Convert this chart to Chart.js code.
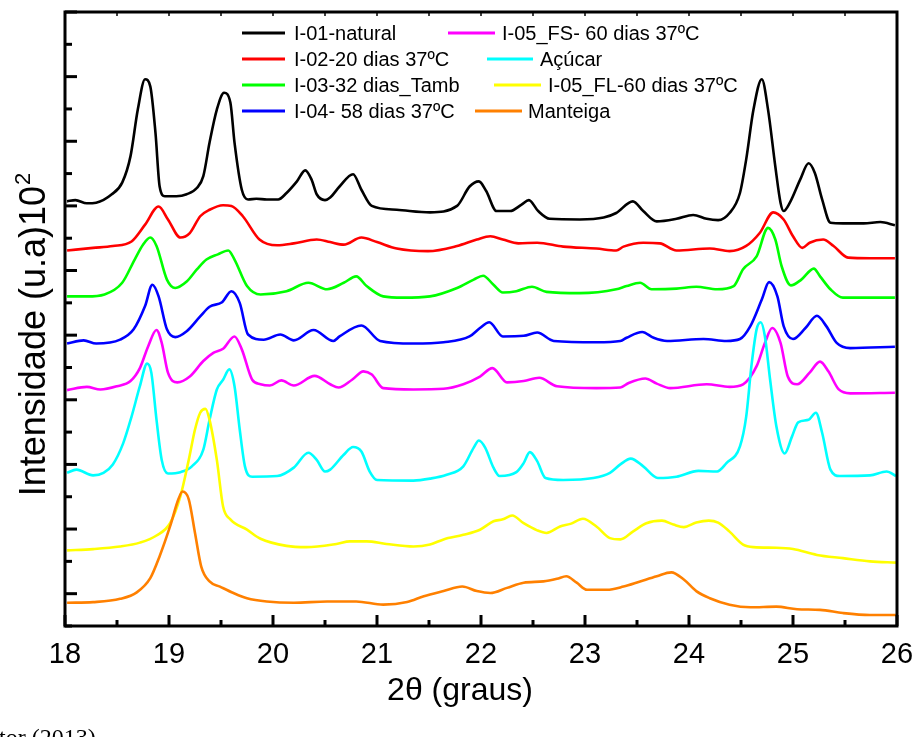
<!DOCTYPE html>
<html><head><meta charset="utf-8">
<script src="https://cdn.jsdelivr.net/npm/chart.js@4.4.1/dist/chart.umd.min.js"></script>
<style>html,body{margin:0;padding:0;background:#fff;}#wrap{width:917px;height:737px;position:relative;}</style>
</head><body><div id="wrap"><canvas id="c" width="917" height="737"></canvas></div>
<script>
// ---- data (2θ in degrees, intensity in arbitrary units, curves already offset) ----
const labels = ["I-01-natural","I-02-20 dias 37ºC","I-03-32 dias_Tamb","I-04- 58 dias 37ºC","I-05_FS- 60 dias 37ºC","Açúcar","I-05_FL-60 dias 37ºC","Manteiga"];
const colors = ["#000000","#ff0000","#00ff00","#0000ff","#ff00ff","#00ffff","#ffff00","#ff8000"];

const x01 = [18.02,18.10,18.21,18.30,18.45,18.55,18.63,18.70,18.77,18.82,18.87,18.91,18.96,19.07,19.17,19.27,19.33,19.39,19.46,19.53,19.59,19.63,19.70,19.76,19.84,19.94,20.05,20.13,20.23,20.31,20.37,20.42,20.50,20.55,20.64,20.77,20.85,20.95,21.19,21.51,21.77,21.89,21.98,22.05,22.15,22.28,22.39,22.46,22.55,22.66,22.95,23.18,23.30,23.46,23.56,23.69,23.88,24.04,24.17,24.28,24.39,24.49,24.55,24.62,24.70,24.76,24.83,24.88,24.91,24.97,25.07,25.15,25.21,25.28,25.36,25.48,25.68,25.84,25.98];
const y01 = [60.7,60.9,60.4,60.5,61.8,63.6,67.7,74.9,79.6,78.5,71.3,63.0,61.5,61.5,61.8,62.8,64.6,69.8,74.9,77.5,76.0,69.8,62.5,61.0,61.1,61.0,61.0,62.0,63.8,65.5,64.1,61.8,60.9,61.3,63.0,64.9,62.5,60.0,59.4,59.0,60.0,63.0,63.8,62.3,59.2,59.2,60.2,60.9,59.2,58.0,57.9,58.2,58.9,60.7,59.2,57.6,58.0,58.6,58.0,57.8,58.9,62.0,67.2,74.9,79.6,74.9,66.1,60.5,59.2,60.5,64.1,66.6,65.1,61.0,57.4,57.3,57.3,57.5,57.0];

const x02 = [18.02,18.27,18.46,18.64,18.77,18.90,18.99,19.11,19.20,19.30,19.39,19.52,19.60,19.71,19.87,20.04,20.20,20.42,20.55,20.68,20.85,21.00,21.19,21.49,21.77,21.96,22.09,22.21,22.36,22.54,22.79,23.11,23.30,23.37,23.56,23.72,23.88,24.20,24.39,24.55,24.68,24.81,24.91,25.00,25.09,25.16,25.29,25.39,25.53,25.74,25.98];
const y02 = [53.1,53.5,53.8,54.5,57.1,59.9,57.9,55.1,55.8,58.4,59.4,60.1,60.0,58.4,54.8,53.9,54.2,54.8,54.4,54.0,55.1,54.4,53.4,53.0,53.8,54.8,55.3,54.8,54.2,54.3,53.7,53.4,53.1,53.7,54.3,54.2,53.1,53.4,53.0,53.8,55.8,59.0,57.9,55.3,53.5,54.3,54.8,53.8,52.0,51.9,51.9];

const x03 = [18.02,18.21,18.38,18.55,18.67,18.75,18.82,18.88,18.98,19.06,19.17,19.27,19.36,19.47,19.57,19.63,19.75,19.88,20.13,20.34,20.52,20.68,20.80,20.90,21.06,21.25,21.51,21.77,21.93,22.02,22.12,22.21,22.34,22.49,22.63,22.95,23.30,23.40,23.53,23.64,23.88,24.07,24.27,24.43,24.52,24.65,24.76,24.83,24.89,24.98,25.08,25.20,25.26,25.36,25.48,25.98];
const y03 = [46.0,46.0,46.3,48.1,51.7,54.0,55.1,53.8,48.6,47.3,48.3,50.2,51.7,52.5,53.1,51.7,47.6,46.3,46.8,48.1,47.1,48.1,49.1,47.6,46.0,45.8,46.0,47.3,48.6,49.2,47.8,46.6,46.8,47.5,46.7,46.5,47.1,47.6,48.1,47.1,47.2,47.5,47.1,47.6,50.2,52.2,56.6,54.8,50.7,47.7,48.6,50.3,49.1,47.1,45.8,45.8];

const x04 = [18.02,18.18,18.30,18.53,18.66,18.77,18.84,18.90,18.98,19.06,19.17,19.30,19.39,19.51,19.60,19.68,19.76,19.91,20.07,20.20,20.39,20.58,20.64,20.85,21.03,21.35,21.64,21.89,21.99,22.08,22.21,22.41,22.54,22.70,23.11,23.34,23.40,23.55,23.66,23.79,24.14,24.36,24.49,24.59,24.70,24.77,24.85,24.91,25.00,25.12,25.23,25.32,25.42,25.55,25.98];
const y04 = [38.7,39.2,38.7,39.3,40.9,44.5,47.8,46.0,40.9,39.7,40.6,42.9,44.4,45.1,46.8,45.0,40.1,39.3,40.1,39.2,40.8,39.1,39.8,41.5,39.1,38.7,38.9,39.8,41.1,42.0,39.8,39.9,40.4,39.1,38.9,39.1,39.6,40.5,39.6,39.1,39.4,39.1,39.4,41.4,45.5,48.2,46.0,41.4,39.4,41.1,43.0,41.4,38.8,38.0,38.2];

const x05fs = [18.02,18.21,18.34,18.50,18.63,18.72,18.80,18.88,18.93,18.99,19.08,19.20,19.33,19.43,19.52,19.63,19.70,19.80,19.88,19.97,20.08,20.20,20.40,20.55,20.63,20.76,20.87,20.95,21.06,21.35,21.64,21.83,21.99,22.11,22.25,22.41,22.56,22.73,23.11,23.34,23.42,23.58,23.69,23.82,24.17,24.39,24.52,24.65,24.73,24.80,24.88,24.95,25.04,25.16,25.26,25.34,25.44,25.55,25.98];
const y05fs = [31.5,32.0,31.6,32.1,32.9,34.9,38.3,40.8,38.8,34.2,32.7,33.6,36.0,37.3,37.9,39.8,37.8,33.1,32.4,32.2,33.0,32.2,33.7,32.4,31.9,33.1,34.4,33.9,31.8,31.6,31.7,32.4,33.6,34.9,32.7,32.9,33.4,32.1,31.8,31.9,32.6,33.3,32.5,31.8,32.4,32.0,32.4,35.2,38.8,41.1,38.8,33.6,32.4,34.2,35.9,34.4,31.6,31.0,31.1];

const xAcucar = [18.02,18.11,18.27,18.37,18.46,18.56,18.64,18.72,18.79,18.83,18.88,18.93,18.99,19.11,19.22,19.33,19.39,19.46,19.52,19.58,19.63,19.68,19.73,19.80,20.04,20.20,20.34,20.42,20.50,20.55,20.68,20.77,20.85,20.93,21.00,21.35,21.51,21.67,21.83,21.93,21.98,22.04,22.12,22.18,22.34,22.41,22.47,22.54,22.62,22.79,23.08,23.24,23.34,23.44,23.56,23.70,23.88,24.09,24.27,24.36,24.49,24.55,24.60,24.65,24.69,24.73,24.78,24.84,24.92,24.99,25.05,25.15,25.22,25.28,25.36,25.45,25.74,25.90,25.99];
const yAcucar = [18.7,19.2,18.3,18.7,20.0,23.3,27.4,32.1,35.6,34.2,26.9,20.7,18.6,18.8,19.7,22.3,26.9,31.6,33.1,34.7,32.1,25.4,19.7,18.1,18.2,19.5,21.8,20.7,18.9,19.2,21.5,22.7,22.0,18.9,17.6,17.5,17.8,18.4,19.7,22.6,23.7,22.6,19.5,18.2,18.8,20.2,21.9,20.5,17.9,17.6,17.9,18.7,20.0,20.9,19.7,17.9,18.1,19.0,18.9,20.2,22.8,27.4,35.2,40.9,42.0,39.8,33.1,25.9,21.7,24.3,26.5,26.9,28.0,24.9,19.2,18.2,18.3,18.9,18.2];

const x05fl = [18.02,18.27,18.53,18.72,18.88,19.01,19.11,19.19,19.25,19.30,19.35,19.39,19.46,19.52,19.59,19.75,19.88,20.13,20.32,20.61,20.74,20.90,21.09,21.35,21.51,21.64,21.83,21.99,22.12,22.21,22.30,22.41,22.54,22.63,22.76,22.86,22.98,23.11,23.24,23.34,23.46,23.59,23.74,23.85,23.95,24.07,24.19,24.28,24.39,24.52,24.62,24.84,25.00,25.23,25.48,25.74,25.99];
const y05fl = [6.7,6.9,7.3,7.9,9.0,10.9,15.1,20.7,25.4,28.0,28.6,26.9,20.7,13.5,11.5,9.9,8.5,7.4,7.2,7.7,8.1,8.1,7.7,7.3,7.6,8.4,9.1,9.9,11.2,11.5,12.1,10.9,9.8,9.4,10.4,10.8,11.6,10.4,8.6,8.4,9.6,10.9,11.3,10.7,10.3,11.0,11.3,11.0,9.6,7.6,7.2,7.1,6.9,6.0,5.5,5.0,4.8];

const xManteiga = [18.02,18.27,18.53,18.69,18.82,18.91,19.01,19.09,19.13,19.19,19.25,19.31,19.39,19.49,19.62,19.75,19.94,20.20,20.52,20.80,21.06,21.29,21.45,21.64,21.82,21.96,22.09,22.25,22.41,22.60,22.73,22.82,22.92,23.02,23.21,23.37,23.53,23.69,23.83,23.95,24.07,24.20,24.39,24.59,24.84,25.04,25.26,25.48,25.74,25.99];
const yManteiga = [-1.4,-1.3,-0.8,0.2,2.4,5.8,10.4,14.6,15.8,14.6,9.4,4.2,1.9,1.1,0.1,-0.7,-1.2,-1.4,-1.2,-1.2,-1.7,-1.3,-0.4,0.4,1.1,0.4,0.1,0.9,1.7,1.9,2.3,2.7,1.7,0.6,0.6,1.1,1.9,2.7,3.3,2.2,0.4,-0.7,-1.7,-2.1,-2.0,-2.4,-2.5,-3.0,-3.3,-3.3];

const xTickLabels = ["18","19","20","21","22","23","24","25","26"];
const xAxisTitle = "2θ (graus)";
const yAxisTitle = "Intensidade (u.a)10";
const yAxisTitleSup = "2";
const sourceNote = "tor (2013)";

// ---- build ----
const xs = [x01,x02,x03,x04,x05fs,xAcucar,x05fl,xManteiga];
const ys = [y01,y02,y03,y04,y05fs,yAcucar,y05fl,yManteiga];
const datasets = labels.map((lab,i)=>({
  label: lab,
  data: xs[i].slice(0, Math.min(xs[i].length, ys[i].length)).map((xv,j)=>({x:xv, y:ys[i][j]})),
  borderColor: colors[i],
  backgroundColor: colors[i],
  borderWidth: 2.6,
  pointRadius: 0,
  fill: false,
  cubicInterpolationMode: 'monotone',
  order: labels.length - i
}));

const FONT = "'Liberation Sans', Arial, Helvetica, sans-serif";

// legend layout: [lineStart, lineEnd, textX, rowY]
const legendLayout = [
  [242,285,294,33],[242,285,294,59],[242,285,294,85],[242,285,294,111],
  [448,495,502,33],[487,533,540,59],[494,541,548,85],[475,522,528,111]
];

const decorPlugin = {
  id:'decor',
  afterDraw(chart){
    const ctx = chart.ctx, a = chart.chartArea, xs_ = chart.scales.x, ys_ = chart.scales.y;
    ctx.save();
    ctx.strokeStyle = '#000';
    ctx.lineCap = 'butt';
    ctx.lineWidth = 3;
    const seg=(x1,y1,x2,y2)=>{ctx.beginPath();ctx.moveTo(x1,y1);ctx.lineTo(x2,y2);ctx.stroke();};
    for (let v = xs_.min; v <= xs_.max + 1e-6; v += 0.5) {
      const px = xs_.getPixelForValue(v);
      const major = Math.abs(v - Math.round(v)) < 1e-6;
      seg(px, a.bottom, px, a.bottom - (major ? 11 : 6));
      ctx.lineWidth = 1.5; seg(px, a.top, px, a.top + 4); ctx.lineWidth = 3;
    }
    for (let v = ys_.min; v <= ys_.max + 1e-6; v += 5) {
      const py = ys_.getPixelForValue(v);
      const major = Math.abs(v % 10) < 1e-6;
      seg(a.left, py, a.left + (major ? 12 : 7), py);
    }
    ctx.lineWidth = 3;
    ctx.strokeRect(a.left, a.top, a.right - a.left, a.bottom - a.top);
    // legend
    ctx.font = "20px " + FONT;
    ctx.textBaseline = 'middle';
    ctx.textAlign = 'left';
    chart.data.datasets.forEach((ds,i)=>{
      const L = legendLayout[i];
      ctx.strokeStyle = ds.borderColor; ctx.lineWidth = 3;
      seg(L[0], L[3], L[1], L[3]);
      ctx.fillStyle = '#000';
      ctx.fillText(ds.label, L[2], L[3] + 1);
    });
    // x axis title
    ctx.fillStyle = '#000';
    ctx.font = "32px " + FONT;
    ctx.textAlign = 'center';
    ctx.textBaseline = 'alphabetic';
    ctx.fillText(xAxisTitle, 460, 700);
    // y axis title (rotated) with superscript
    ctx.save();
    ctx.translate(45, 335);
    ctx.rotate(-Math.PI/2);
    ctx.font = "36px " + FONT;
    const wMain = ctx.measureText(yAxisTitle).width;
    ctx.font = "22px " + FONT;
    const wSup = ctx.measureText(yAxisTitleSup).width;
    const start = -(wMain + wSup)/2;
    ctx.textAlign = 'left';
    ctx.font = "36px " + FONT;
    ctx.fillText(yAxisTitle, start, 0);
    ctx.font = "22px " + FONT;
    ctx.fillText(yAxisTitleSup, start + wMain + 1, -15);
    ctx.restore();
    // source note (cut off at bottom-left)
    ctx.font = "24px 'Liberation Serif', 'Times New Roman', serif";
    ctx.textAlign = 'left';
    ctx.fillText(sourceNote, -1, 745);
    ctx.restore();
  }
};

new Chart(document.getElementById('c'), {
  type: 'line',
  data: { datasets },
  options: {
    responsive: false,
    animation: false,
    devicePixelRatio: 1,
    layout: { padding: { top: 12, right: 20, left: 0, bottom: 0 } },
    plugins: { legend: { display: false }, tooltip: { enabled: false }, title: { display: false } },
    scales: {
      x: {
        type: 'linear', min: 18, max: 26,
        grid: { display: false, drawTicks: false },
        border: { display: false },
        ticks: {
          stepSize: 1, padding: 12, color: '#000', maxRotation: 0,
          font: { family: FONT, size: 29 },
          callback: (v) => xTickLabels[Math.round(v - 18)] ?? ''
        },
        afterFit: (s) => { s.height = 111; s.paddingLeft = 0; s.paddingRight = 0; }
      },
      y: {
        type: 'linear', min: -5, max: 90,
        grid: { display: false, drawTicks: false },
        border: { display: false },
        ticks: { display: false },
        afterFit: (s) => { s.width = 65; s.paddingTop = 0; s.paddingBottom = 0; }
      }
    }
  },
  plugins: [decorPlugin]
});
</script>
</body></html>
